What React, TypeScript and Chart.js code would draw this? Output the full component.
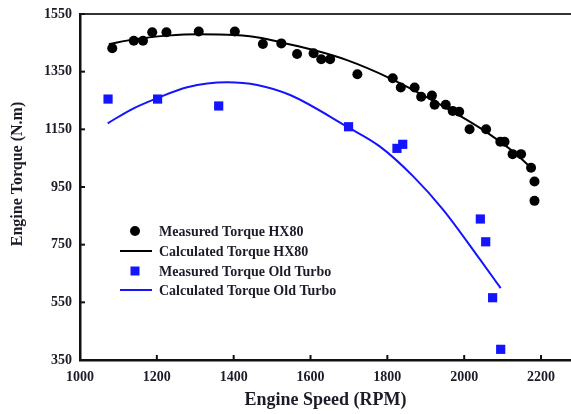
import React, { useEffect, useRef } from 'react';
import { Chart, registerables } from 'chart.js';

Chart.register(...registerables);

// ---- Data ----
const hx80MeasuredRpm = [1084, 1140, 1164, 1188, 1225, 1309, 1403, 1476, 1524, 1565, 1608, 1628, 1651, 1722, 1814, 1835, 1871, 1888, 1916, 1923, 1952, 1970, 1987, 2014, 2057, 2094, 2105, 2126, 2148, 2174, 2183, 2183];
const hx80MeasuredTorque = [1431, 1457, 1457, 1487, 1487, 1489, 1489, 1446, 1448, 1411, 1414, 1393, 1393, 1341, 1327, 1295, 1295, 1263, 1267, 1235, 1235, 1214, 1211, 1150, 1150, 1107, 1107, 1064, 1064, 1017, 969, 902];

const hx80CalcRpm = [1075, 1140, 1227, 1308, 1402, 1476, 1521, 1608, 1695, 1807, 1955, 2042, 2128, 2180];
const hx80CalcTorque = [1445, 1462, 1475, 1480, 1477, 1466, 1452, 1425, 1390, 1327, 1223, 1154, 1072, 1009];

const oldMeasuredRpm = [1073, 1202, 1361, 1699, 1825, 1840, 2042, 2056, 2074, 2095];
const oldMeasuredTorque = [1255, 1255, 1231, 1159, 1084, 1098, 839, 760, 566, 387];

const oldCalcRpm = [1072, 1131, 1201, 1279, 1383, 1461, 1547, 1695, 1781, 1868, 1946, 2042, 2095];
const oldCalcTorque = [1171, 1217, 1258, 1296, 1313, 1304, 1269, 1159, 1090, 986, 870, 697, 599];

const xTicks = [1000, 1200, 1400, 1600, 1800, 2000, 2200];
const yTicks = [350, 550, 750, 950, 1150, 1350, 1550];

const seriesLabels = [
  'Measured Torque HX80',
  'Calculated Torque HX80',
  'Measured Torque Old Turbo',
  'Calculated Torque Old Turbo',
];

const xTitle = 'Engine Speed (RPM)';
const yTitle = 'Engine Torque (N.m)';

const BLUE = '#1414ff';
const BLACK = '#000000';
const TEXT = '#1e1a28';
const SERIF = '"Liberation Serif", "Times New Roman", serif';

const toPoints = (xs: number[], ys: number[]) => xs.map((x, i) => ({ x, y: ys[i] }));

const decorPlugin = {
  id: 'decor',
  afterDraw(chart: any) {
    const { ctx, chartArea, scales } = chart;
    ctx.save();
    // top frame line
    ctx.strokeStyle = '#333';
    ctx.lineWidth = 2;
    ctx.beginPath();
    ctx.moveTo(chartArea.left, chartArea.top);
    ctx.lineTo(chartArea.right, chartArea.top);
    ctx.stroke();

    // inward tick marks
    ctx.strokeStyle = '#111';
    ctx.lineWidth = 2;
    xTicks.forEach((v) => {
      const px = scales.x.getPixelForValue(v);
      ctx.beginPath();
      ctx.moveTo(px, chartArea.bottom);
      ctx.lineTo(px, chartArea.bottom - 5);
      ctx.stroke();
    });
    yTicks.forEach((v) => {
      const py = scales.y.getPixelForValue(v);
      ctx.beginPath();
      ctx.moveTo(chartArea.left, py);
      ctx.lineTo(chartArea.left + 5, py);
      ctx.stroke();
    });

    // y-axis title
    ctx.fillStyle = TEXT;
    ctx.font = `bold 16px ${SERIF}`;
    ctx.textAlign = 'center';
    ctx.textBaseline = 'middle';
    ctx.translate(18, 174);
    ctx.rotate(-Math.PI / 2);
    ctx.fillText(yTitle, 0, 0);
    ctx.restore();

    // legend
    ctx.save();
    const rows = [231, 251, 271, 290];
    ctx.font = `bold 14px ${SERIF}`;
    ctx.textBaseline = 'middle';
    ctx.textAlign = 'left';
    chart.data.datasets.forEach((ds: any, i: number) => {
      const y = rows[i];
      if (ds.showLine) {
        ctx.strokeStyle = ds.borderColor;
        ctx.lineWidth = 2;
        ctx.beginPath();
        ctx.moveTo(120, y);
        ctx.lineTo(152, y);
        ctx.stroke();
      } else {
        ctx.fillStyle = ds.backgroundColor;
        if (ds.pointStyle === 'rect') {
          ctx.fillRect(130.5, y - 4.5, 9, 9);
        } else {
          ctx.beginPath();
          ctx.arc(135, y, 5, 0, Math.PI * 2);
          ctx.fill();
        }
      }
      ctx.fillStyle = TEXT;
      ctx.fillText(ds.label, 159, y + 1);
    });
    ctx.restore();
  },
};

export default function App() {
  const canvasRef = useRef<HTMLCanvasElement | null>(null);

  useEffect(() => {
    if (!canvasRef.current) return;
    const chart = new Chart(canvasRef.current, {
      type: 'scatter',
      data: {
        datasets: [
          {
            label: seriesLabels[0],
            data: toPoints(hx80MeasuredRpm, hx80MeasuredTorque),
            showLine: false,
            pointStyle: 'circle',
            pointRadius: 5,
            backgroundColor: BLACK,
            borderColor: BLACK,
            borderWidth: 0,
          },
          {
            label: seriesLabels[1],
            data: toPoints(hx80CalcRpm, hx80CalcTorque),
            showLine: true,
            pointRadius: 0,
            borderColor: BLACK,
            backgroundColor: BLACK,
            borderWidth: 2,
            cubicInterpolationMode: 'monotone',
          },
          {
            label: seriesLabels[2],
            data: toPoints(oldMeasuredRpm, oldMeasuredTorque),
            showLine: false,
            pointStyle: 'rect',
            pointRadius: 6.5,
            backgroundColor: BLUE,
            borderColor: BLUE,
            borderWidth: 0,
          },
          {
            label: seriesLabels[3],
            data: toPoints(oldCalcRpm, oldCalcTorque),
            showLine: true,
            pointRadius: 0,
            borderColor: BLUE,
            backgroundColor: BLUE,
            borderWidth: 2,
            cubicInterpolationMode: 'monotone',
          },
        ] as any,
      },
      options: {
        responsive: false,
        animation: false,
        devicePixelRatio: 1,
        layout: { autoPadding: false, padding: { top: 14, right: 0, left: 0, bottom: 0 } },
        plugins: {
          legend: { display: false },
          tooltip: { enabled: false },
        },
        scales: {
          x: {
            type: 'linear',
            min: 1000,
            max: 2278,
            afterBuildTicks: (scale: any) => {
              scale.ticks = xTicks.map((v) => ({ value: v }));
            },
            afterFit: (scale: any) => {
              scale.height = 54;
              scale.paddingLeft = 0;
              scale.paddingRight = 0;
            },
            grid: { display: false, drawTicks: false },
            border: { display: true, color: '#111', width: 2.5 },
            ticks: {
              color: TEXT,
              font: { family: SERIF, size: 14, weight: 'bold' },
              padding: 9,
              maxRotation: 0,
              autoSkip: false,
              callback: (v: any) => String(v),
            },
            title: {
              display: true,
              text: xTitle,
              color: TEXT,
              font: { family: SERIF, size: 18, weight: 'bold' },
              padding: { top: 0, bottom: 3 },
            },
          },
          y: {
            type: 'linear',
            min: 350,
            max: 1550,
            afterBuildTicks: (scale: any) => {
              scale.ticks = yTicks.map((v) => ({ value: v }));
            },
            afterFit: (scale: any) => {
              scale.width = 80;
              scale.paddingTop = 0;
              scale.paddingBottom = 0;
            },
            grid: { display: false, drawTicks: false },
            border: { display: true, color: '#111', width: 2.5 },
            ticks: {
              color: TEXT,
              font: { family: SERIF, size: 14, weight: 'bold' },
              padding: 8,
              autoSkip: false,
              callback: (v: any) => String(v),
            },
          },
        },
      } as any,
      plugins: [decorPlugin],
    });
    return () => chart.destroy();
  }, []);

  return (
    <div style={{ position: 'fixed', left: 0, top: 0, width: 571, height: 414, background: '#fff' }}>
      <canvas ref={canvasRef} width={571} height={414} style={{ display: 'block', width: 571, height: 414 }} />
    </div>
  );
}
